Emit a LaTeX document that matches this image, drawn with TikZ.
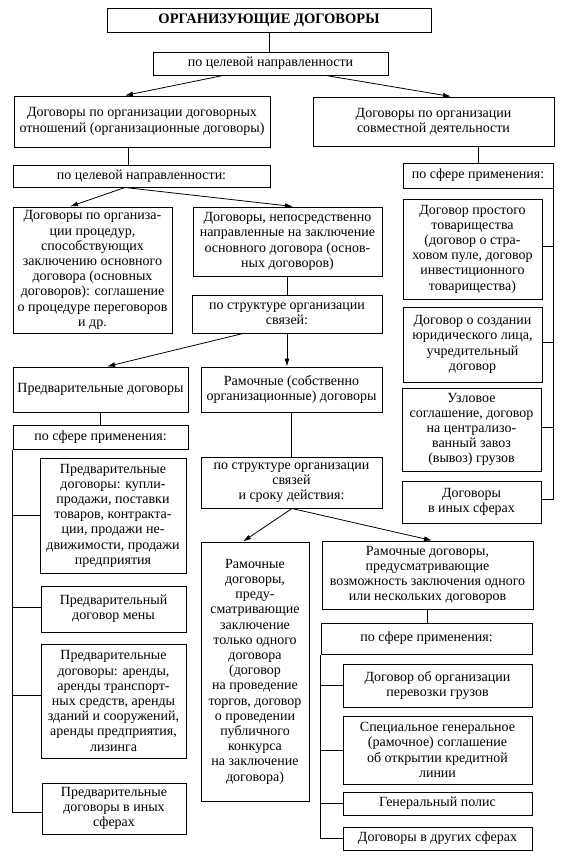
\documentclass[tikz,border=0pt]{standalone}
\usepackage{fontspec}
\setmainfont{Liberation Serif}
\usetikzlibrary{arrows.meta,calc}
\newcommand\mybox[6]{\node[box, minimum width={(#4-#2)*1pt}, minimum height={(#5-#3)*1pt}] (#1) at ({(#2+#4)/2},{(#3+#5)/2}) {#6};}
\begin{document}
\begin{tikzpicture}[x=1pt,y=-1pt,
  box/.style={draw, line width=1pt, inner sep=0pt, align=center, font=\fontsize{14}{15.2}\selectfont},
  conn/.style={line width=0.8pt},
  arr/.style={line width=0.8pt, -{Latex[length=8pt,width=5pt]}}]
\fill[white] (0,0) rectangle (562,857);
\useasboundingbox (0,0) rectangle (562,857);

\mybox{title}{107}{8}{431}{32}{{\fontsize{14.5}{16}\selectfont\bfseries ОРГАНИЗУЮЩИЕ ДОГОВОРЫ}}
\mybox{tn1}{153}{52}{388}{75}{по целевой направленности}
\mybox{L1}{14}{96}{270}{147}{Договоры по организации договорных\\отношений (организационные договоры)}
\mybox{R1}{313}{97}{554}{146}{Договоры по организации\\совместной деятельности}
\mybox{tn2}{13}{165}{270}{187}{по целевой направленности:}
\mybox{sf1}{403}{163}{553}{188}{по сфере применения:}
\mybox{proc}{13}{207}{172}{333}{Договоры по организа-\\ции процедур,\\способствующих\\заключению основного\\договора (основных\\договоров): соглашение\\о процедуре переговоров\\и др.}
\mybox{nep}{193}{207}{382}{276}{Договоры, непосредственно\\направленные на заключение\\основного договора (основ-\\ных договоров)}
\mybox{str1}{192}{295}{382}{333}{по структуре организации\\связей:}
\mybox{pred}{13}{367}{188}{412}{Предварительные договоры}
\mybox{ram}{201}{367}{382}{412}{Рамочные (собственно\\организационные) договоры}
\mybox{sf2}{13}{425}{188}{449}{по сфере применения:}
\mybox{p1}{40}{458}{186}{573}{Предварительные\\договоры: купли-\\продажи, поставки\\товаров, контракта-\\ции, продажи не-\\движимости, продажи\\предприятия}
\mybox{p2}{41}{586}{186}{632}{Предварительный\\договор мены}
\mybox{p3}{41}{644}{186}{758}{Предварительные\\договоры: аренды,\\аренды транспорт-\\ных средств, аренды\\зданий и сооружений,\\аренды предприятия,\\лизинга}
\mybox{p4}{42}{783}{186}{834}{Предварительные\\договоры в иных\\сферах}
\mybox{str2}{201}{457}{382}{508}{по структуре организации\\связей\\и сроку действия:}
\mybox{ram1}{201}{542}{309}{801}{Рамочные\\договоры,\\преду-\\сматривающие\\заключение\\только одного\\договора\\(договор\\на проведение\\торгов, договор\\о проведении\\публичного\\конкурса\\на заключение\\договора)}
\mybox{ram2}{322}{541}{533}{609}{Рамочные договоры,\\предусматривающие\\возможность заключения одного\\или нескольких договоров}
\mybox{sf3}{321}{623}{532}{654}{по сфере применения:}
\mybox{r1}{343}{664}{532}{707}{Договор об организации\\перевозки грузов}
\mybox{r2}{343}{716}{532}{784}{Специальное генеральное\\(рамочное) соглашение\\об открытии кредитной\\линии}
\mybox{r3}{343}{792}{532}{815}{Генеральный полис}
\mybox{r4}{343}{827}{532}{850}{Договоры в других сферах}
\mybox{c1}{403}{199}{542}{299}{Договор простого\\товарищества\\(договор о стра-\\ховом пуле, договор\\инвестиционного\\товарищества)}
\mybox{c2}{403}{307}{542}{382}{Договор о создании\\юридического лица,\\учредительный\\договор}
\mybox{c3}{402}{388}{541}{471}{Узловое\\соглашение, договор\\на централизо-\\ванный завоз\\(вывоз) грузов}
\mybox{c4}{402}{481}{541}{523}{Договоры\\в иных сферах}

% connectors
\draw[conn] (title.south) -- (title.south |- tn1.north);
\draw[arr] ([xshift=-47.5pt]tn1.south) -- ([xshift=-17pt]L1.north);
\draw[arr] ([xshift=55.5pt]tn1.south) -- ([xshift=17.5pt]R1.north);
\draw[conn] ([xshift=-14pt]L1.south) -- ([xshift=-14pt]L1.south |- tn2.north);
\draw[conn] (sf1.north |- R1.south) -- (sf1.north);
\draw[arr] ([xshift=-16.5pt]tn2.south) -- ([xshift=-22.5pt]proc.north);
\draw[arr] ([xshift=-16.5pt]tn2.south) -- ([xshift=5.5pt]nep.north);
\draw[conn] (nep.south) -- (nep.south |- str1.north);
\draw[arr] ([xshift=-44pt]str1.south) -- ([xshift=6.5pt]pred.north);
\draw[arr] (str1.south) -- (str1.south |- ram.north);
\draw[conn] (pred.south) -- (pred.south |- sf2.north);
\draw[conn] (ram.south) -- (ram.south |- str2.north);
\draw[arr] ([xshift=0.5pt]str2.south) -- ([xshift=-12pt]ram1.north);
\draw[arr] ([xshift=0.5pt]str2.south) -- ([xshift=4.5pt]ram2.north);
\draw[conn] (ram2.south) -- (ram2.south |- sf3.north);

% left tree
\coordinate (p2c) at ([yshift=2pt]p2.west);
\coordinate (p3c) at ([yshift=6pt]p3.west);
\coordinate (p4c) at ([yshift=-3.5pt]p4.west);
\draw[conn] (sf2.south west) |- (p4c);
\draw[conn] (sf2.south west |- p1.west) -- (p1.west);
\draw[conn] (sf2.south west |- p2c) -- (p2c);
\draw[conn] (sf2.south west |- p3c) -- (p3c);

% right tree
\coordinate (c1c) at ([yshift=3pt]c1.east);
\coordinate (c2c) at ([yshift=2.5pt]c2.east);
\coordinate (c3c) at ([yshift=2.5pt]c3.east);
\coordinate (c4c) at ([yshift=3pt]c4.east);
\draw[conn] (sf1.south east) |- (c4c);
\draw[conn] (c1c) -- (c1c -| sf1.south east);
\draw[conn] (c2c) -- (c2c -| sf1.south east);
\draw[conn] (c3c) -- (c3c -| sf1.south east);

% bottom tree
\draw[conn] (sf3.south west) |- (r4.west);
\draw[conn] (sf3.south west |- r1.west) -- (r1.west);
\draw[conn] (sf3.south west |- r2.west) -- (r2.west);
\draw[conn] (sf3.south west |- r3.west) -- (r3.west);
\end{tikzpicture}
\end{document}
